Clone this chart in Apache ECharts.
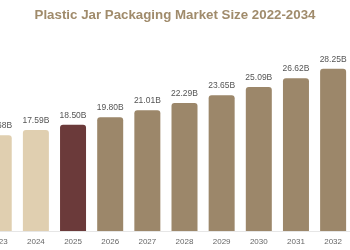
<!DOCTYPE html>
<html>
<head>
<meta charset="utf-8">
<script src="https://cdn.jsdelivr.net/npm/echarts@6/dist/echarts.min.js"></script>
<style>
  html, body { margin: 0; padding: 0; background: #fff; }
  #chart { width: 350px; height: 250px; }
</style>
</head>
<body>
<div id="chart"></div>
<script>
// years shown on the x axis (2022 and 2033-2034 sit outside the visible window)
var years = ["2022", "2023", "2024", "2025", "2026", "2027", "2028",
             "2029", "2030", "2031", "2032", "2033", "2034"];
// market size in billions USD
var marketSize = [15.85, 16.68, 17.59, 18.50, 19.80, 21.01, 22.29,
                  23.65, 25.09, 26.62, 28.25, 29.97, 31.80];
var titleText = "Plastic Jar Packaging Market Size 2022-2034";

var histColor = "#e0cfb0";
var baseColor = "#6b3a3a";
var forecastColor = "#9c876a";

function barColor(year) {
  var y = parseInt(year, 10);
  if (y < 2025) return histColor;
  if (y === 2025) return baseColor;
  return forecastColor;
}

var chart = echarts.init(document.getElementById("chart"));
chart.setOption({
  animation: false,
  title: {
    text: titleText,
    left: "center",
    top: 4,
    textStyle: {
      fontFamily: "Liberation Sans",
      fontSize: 13.3,
      fontWeight: "bold",
      color: "#a08b6b"
    }
  },
  grid: {
    left: -57,
    right: -76,
    top: 30,
    bottom: 19,
    containLabel: false,
    outerBoundsMode: "none"
  },
  xAxis: {
    type: "category",
    data: years,
    axisLine: { lineStyle: { color: "#e6e6e6" } },
    axisTick: { show: false },
    axisLabel: {
      fontFamily: "Liberation Sans",
      fontSize: 8,
      color: "#666",
      margin: 7
    }
  },
  yAxis: {
    type: "value",
    min: 0,
    max: 35,
    show: false,
    splitLine: { show: false }
  },
  series: [
    {
      type: "bar",
      barWidth: 26,
      data: marketSize.map(function (v, i) {
        return {
          value: v,
          itemStyle: { color: barColor(years[i]) }
        };
      }),
      itemStyle: {
        borderRadius: [3, 3, 0, 0]
      },
      label: {
        show: true,
        position: "top",
        distance: 5,
        fontFamily: "Liberation Sans",
        fontSize: 8.5,
        color: "#555",
        formatter: function (p) {
          return p.value.toFixed(2) + "B";
        }
      }
    }
  ]
});
</script>
</body>
</html>
